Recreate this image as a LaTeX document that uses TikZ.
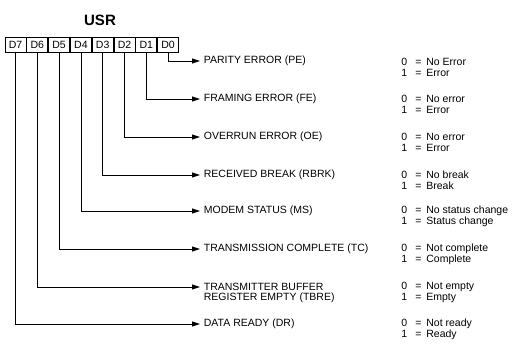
\documentclass[tikz,border=0pt]{standalone}
\usepackage{fontspec}
\setmainfont{Liberation Sans}
\usetikzlibrary{arrows.meta,positioning}

\tikzset{
  bitcell/.style={draw,minimum width=21pt,minimum height=15pt,inner sep=0pt},
  flag/.style={anchor=west,inner xsep=3.5pt,inner ysep=1pt},
  valtext/.style={anchor=west,inner sep=0pt},
  sig/.style={-{Triangle[length=8pt,width=5pt]}}
}
\newcommand{\bitval}[2]{\makebox[14pt][l]{#1}\makebox[11pt][l]{=}#2}

\begin{document}
\begin{tikzpicture}[x=1pt,y=-1pt,line width=0.8pt,font=\fontsize{10.5}{11}\selectfont]
\useasboundingbox (0,0) rectangle (520,347);

% Title
\node[font=\fontsize{15}{16}\selectfont\bfseries] (usr) at (100,20) {USR};

% Register bits
\node[bitcell] (d7) at (15.5,44.5) {D7};
\node[bitcell,right=0pt of d7] (d6) {D6};
\node[bitcell,right=0pt of d6] (d5) {D5};
\node[bitcell,right=0pt of d5] (d4) {D4};
\node[bitcell,right=0pt of d4] (d3) {D3};
\node[bitcell,right=0pt of d3] (d2) {D2};
\node[bitcell,right=0pt of d2] (d1) {D1};
\node[bitcell,right=0pt of d1] (d0) {D0};

% Flag names
\node[flag] (pe) at (200,61) {PARITY ERROR (PE)};
\node[flag] (fe) at (200,99) {FRAMING ERROR (FE)};
\node[flag] (oe) at (200,137) {OVERRUN ERROR (OE)};
\node[flag] (rbrk) at (200,175) {RECEIVED BREAK (RBRK)};
\node[flag] (ms) at (200,211) {MODEM STATUS (MS)};
\node[flag] (tc) at (200,249) {TRANSMISSION COMPLETE (TC)};
\node[flag] (tbre) at (200,287) {TRANSMITTER BUFFER};
\node[flag,below=-1pt of tbre.south west,anchor=north west] (tbre2) {REGISTER EMPTY (TBRE)};
\node[flag] (dr) at (200,324) {DATA READY (DR)};

% Bit lines
\draw[sig] (d0.south) |- (pe.west);
\draw[sig] (d1.south) |- (fe.west);
\draw[sig] (d2.south) |- (oe.west);
\draw[sig] (d3.south) |- (rbrk.west);
\draw[sig] (d4.south) |- (ms.west);
\draw[sig] (d5.south) |- (tc.west);
\draw[sig] (d6.south) |- (tbre.west);
\draw[sig] (d7.south) |- (dr.west);

% Meanings
\node[valtext] (pe0) at (401,62) {\bitval{0}{No Error}};
\node[valtext] (pe1) at (401,73) {\bitval{1}{Error}};
\node[valtext] (fe0) at (401,99) {\bitval{0}{No error}};
\node[valtext] (fe1) at (401,110) {\bitval{1}{Error}};
\node[valtext] (oe0) at (401,137) {\bitval{0}{No error}};
\node[valtext] (oe1) at (401,148) {\bitval{1}{Error}};
\node[valtext] (rbrk0) at (401,175) {\bitval{0}{No break}};
\node[valtext] (rbrk1) at (401,186) {\bitval{1}{Break}};
\node[valtext] (ms0) at (401,211) {\bitval{0}{No status change}};
\node[valtext] (ms1) at (401,222) {\bitval{1}{Status change}};
\node[valtext] (tc0) at (401,249) {\bitval{0}{Not complete}};
\node[valtext] (tc1) at (401,260) {\bitval{1}{Complete}};
\node[valtext] (tbre0) at (401,287) {\bitval{0}{Not empty}};
\node[valtext] (tbre1) at (401,298) {\bitval{1}{Empty}};
\node[valtext] (dr0) at (401,324) {\bitval{0}{Not ready}};
\node[valtext] (dr1) at (401,335) {\bitval{1}{Ready}};

\end{tikzpicture}
\end{document}
